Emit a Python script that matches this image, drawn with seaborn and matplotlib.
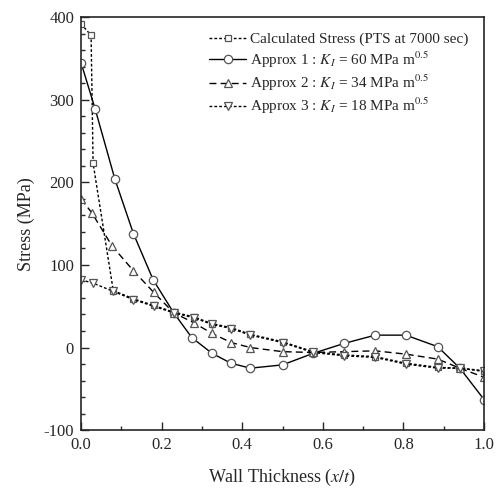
import numpy as np
import pandas as pd
import matplotlib
matplotlib.use("Agg")
import matplotlib.pyplot as plt
import seaborn as sns
from matplotlib.ticker import MultipleLocator

# ---- data ----
calc_x = [0.0, 0.025, 0.03, 0.08, 0.13, 0.18, 0.23, 0.28, 0.325, 0.373, 0.42, 0.5, 0.576, 0.653, 0.73, 0.806, 0.885, 0.94, 1.0]
calc_y = [392, 378, 223, 69, 59, 51, 43, 37, 29, 24, 16, 7, -5, -9, -11, -19, -24, -25, -29]

a1_x = [0.0, 0.035, 0.084, 0.13, 0.179, 0.23, 0.275, 0.325, 0.372, 0.42, 0.5, 0.576, 0.653, 0.73, 0.806, 0.885, 0.94, 1.0]
a1_y = [345, 289, 204, 138, 82, 42, 12, -7, -19, -25, -21, -7, 5, 15, 15, 1, -25, -63]

a2_x = [0.0, 0.027, 0.077, 0.13, 0.18, 0.23, 0.28, 0.325, 0.373, 0.42, 0.5, 0.576, 0.653, 0.73, 0.806, 0.885, 0.94, 1.0]
a2_y = [180, 163, 123, 93, 67, 42, 30, 17, 6, 0, -5, -6, -5, -4, -8, -14, -25, -36]

a3_x = [0.0, 0.03, 0.08, 0.13, 0.18, 0.23, 0.28, 0.325, 0.373, 0.42, 0.5, 0.576, 0.653, 0.73, 0.806, 0.885, 0.94, 1.0]
a3_y = [82, 78, 68, 58, 50, 42, 36, 28, 23, 15, 6, -6, -10, -12, -20, -25, -25, -28]

labels = [
    "Calculated Stress (PTS at 7000 sec)",
    r"Approx 1 : $K_I$ = 60 MPa m$^{0.5}$",
    r"Approx 2 : $K_I$ = 34 MPa m$^{0.5}$",
    r"Approx 3 : $K_I$ = 18 MPa m$^{0.5}$",
]
x_ticks = [0.0, 0.2, 0.4, 0.6, 0.8, 1.0]
y_ticks = [-100, 0, 100, 200, 300, 400]

series = [
    (calc_x, calc_y, labels[0], dict(linestyle=(0, (2, 1.5)), marker="s", markersize=5)),
    (a1_x, a1_y, labels[1], dict(linestyle="-", marker="o", markersize=6)),
    (a2_x, a2_y, labels[2], dict(linestyle=(0, (5, 3)), marker="^", markersize=6)),
    (a3_x, a3_y, labels[3], dict(linestyle=(0, (2, 1.5)), marker="v", markersize=6)),
]

sns.set_style("ticks")
plt.rcParams["font.family"] = ["Liberation Serif", "DejaVu Serif"]
plt.rcParams["mathtext.fontset"] = "stix"
plt.rcParams["axes.unicode_minus"] = False

fig = plt.figure(figsize=(4.97, 4.91), dpi=100)
ax = fig.add_axes([0.163, 0.124, 0.811, 0.841])

for xs, ys, lab, st in series:
    df = pd.DataFrame({"x": xs, "y": ys})
    sns.lineplot(data=df, x="x", y="y", ax=ax, color="black", linewidth=1.0,
                 markerfacecolor="white", markeredgecolor="#555555",
                 markeredgewidth=0.9, label=lab, sort=False, estimator=None, **st)

ax.set_xlim(0, 1.0)
ax.set_ylim(-100, 400)
ax.set_xticks(x_ticks)
ax.set_xticklabels([f"{v:.1f}" for v in x_ticks])
ax.set_yticks(y_ticks)
ax.xaxis.set_minor_locator(MultipleLocator(0.1))
ax.yaxis.set_minor_locator(MultipleLocator(20))
ax.tick_params(direction="in", which="both", labelsize=12, width=1.0, pad=5)
ax.tick_params(which="major", length=6)
ax.tick_params(which="minor", length=3)
for s in ax.spines.values():
    s.set_linewidth(1.2)
    s.set_visible(True)

ax.set_xlabel("Wall Thickness ($\\it{x/t}$)", fontsize=13, labelpad=10)
ax.set_ylabel("Stress (MPa)", fontsize=13, labelpad=6)

ax.legend(loc="upper right", frameon=False, fontsize=11, handlelength=2.4,
          handletextpad=0.3, borderaxespad=0.6, labelspacing=0.2)

fig.savefig("out.png", dpi=100)
